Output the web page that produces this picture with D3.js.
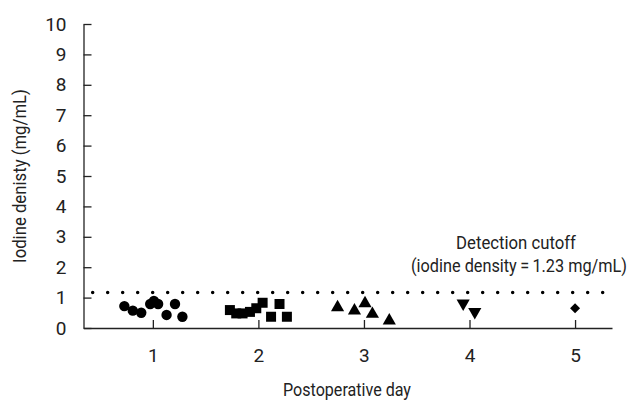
<!DOCTYPE html>
<html>
<head>
<meta charset="utf-8">
<script src="https://cdn.jsdelivr.net/npm/d3@7"></script>
<style>
  body { margin: 0; background: #fff; }
  svg text { font-family: Roboto, "Liberation Sans", sans-serif; fill: #222; }
</style>
</head>
<body>
<svg id="chart" width="637" height="401"></svg>
<script>
// day, iodine density (mg/mL)
const day1 = [[0.73, 0.72], [0.81, 0.57], [0.89, 0.50], [0.975, 0.79], [1.01, 0.89], [1.05, 0.79], [1.13, 0.43], [1.21, 0.79], [1.28, 0.37]];
const day2 = [[1.73, 0.59], [1.79, 0.48], [1.85, 0.48], [1.92, 0.53], [1.98, 0.65], [2.04, 0.83], [2.12, 0.37], [2.20, 0.79], [2.27, 0.37]];
const day3 = [[2.75, 0.68], [2.91, 0.57], [3.01, 0.81], [3.08, 0.46], [3.24, 0.24]];
const day4 = [[3.94, 0.81], [4.05, 0.53]];
const day5 = [[5.0, 0.65]];

const xTicks = [1, 2, 3, 4, 5];
const yTicks = [0, 1, 2, 3, 4, 5, 6, 7, 8, 9, 10];
const cutoff = 1.17; // drawn position of the 1.23 mg/mL cutoff line

const svg = d3.select('#chart');

const x = d3.scaleLinear().domain([0.343, 5.35]).range([83.5, 612]);
const y = d3.scaleLinear().domain([0, 10]).range([328, 24]);

// axes with inward ticks
svg.append('g')
  .attr('transform', 'translate(0,328)')
  .call(d3.axisBottom(x).tickValues(xTicks).tickSizeInner(-8).tickSizeOuter(0).tickPadding(21).tickFormat(d3.format('d')))
  .call(g => g.selectAll('text').attr('font-size', 19))
  .call(g => g.selectAll('line, path').attr('stroke', '#222').attr('stroke-width', 1.3));

svg.append('g')
  .attr('transform', 'translate(83.5,0)')
  .call(d3.axisLeft(y).tickValues(yTicks).tickSizeInner(-8).tickSizeOuter(0).tickPadding(17))
  .call(g => g.selectAll('text').attr('font-size', 19))
  .call(g => g.selectAll('line, path').attr('stroke', '#222').attr('stroke-width', 1.3));

// condensed-looking text: squeeze horizontally to the width seen in the reference
function label(x0, y0, str, len, size, rot = 0) {
  const t = svg.append('text')
    .attr('text-anchor', 'middle')
    .attr('font-size', size)
    .text(str);
  const k = Math.min(1, len / t.node().getComputedTextLength());
  t.attr('transform', `translate(${x0},${y0}) rotate(${rot}) scale(${k},1)`);
  return t;
}

label(347, 396, 'Postoperative day', 128, 19);
label(26, y(5), 'Iodine denisty (mg/mL)', 174, 19, -90);

// dotted cutoff line
svg.append('line')
  .attr('x1', x(0.43)).attr('x2', x(5.3))
  .attr('y1', y(cutoff)).attr('y2', y(cutoff))
  .attr('stroke', '#000')
  .attr('stroke-width', 3.5)
  .attr('stroke-linecap', 'round')
  .attr('stroke-dasharray', '0 15');

label(516, 249, 'Detection cutoff', 120, 19);
label(519, 272, '(iodine density\u2009=\u20091.23 mg/mL)', 216, 19);

// points
const groups = [
  { data: day1, symbol: d3.symbolCircle, size: 85, rot: 0 },
  { data: day2, symbol: d3.symbolSquare, size: 100, rot: 0 },
  { data: day3, symbol: d3.symbolTriangle, size: 75, rot: 0 },
  { data: day4, symbol: d3.symbolTriangle, size: 75, rot: 180 },
  { data: day5, symbol: d3.symbolSquare, size: 50, rot: 45 },
];

groups.forEach(g => {
  svg.append('g')
    .selectAll('path')
    .data(g.data)
    .join('path')
    .attr('d', d3.symbol(g.symbol, g.size))
    .attr('transform', d => `translate(${x(d[0])},${y(d[1])}) rotate(${g.rot})`)
    .attr('fill', '#000');
});
</script>
</body>
</html>
